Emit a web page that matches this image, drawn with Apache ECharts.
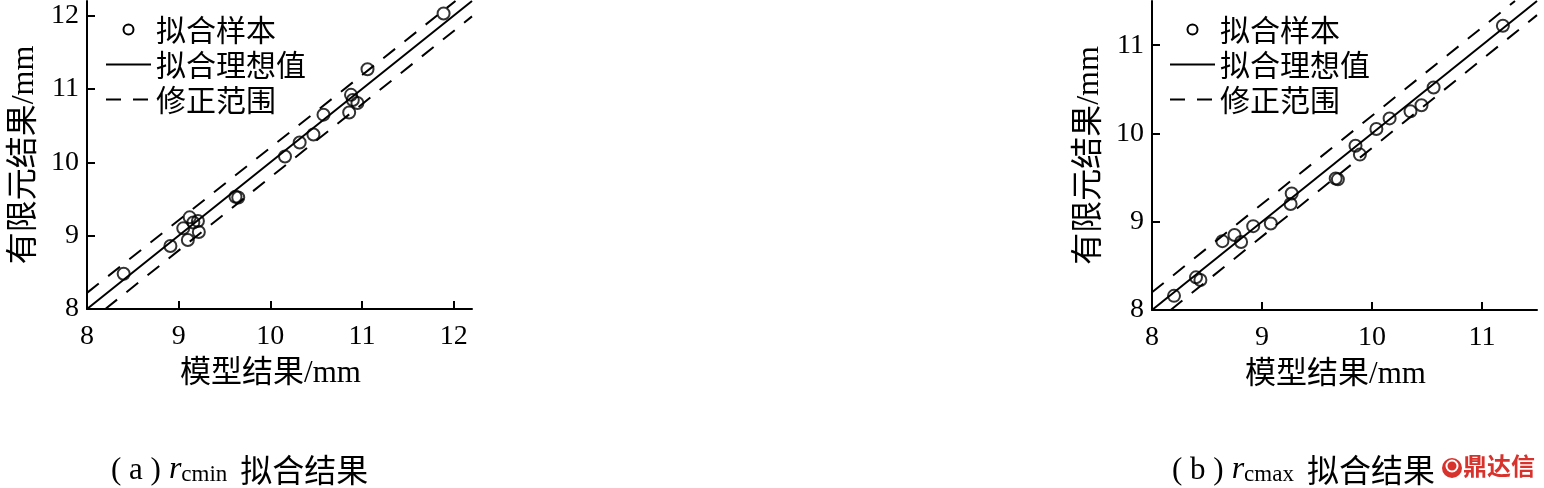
<!DOCTYPE html>
<html><head><meta charset="utf-8">
<script src="https://cdn.jsdelivr.net/npm/echarts@6/dist/echarts.min.js"></script>
<style>html,body{margin:0;padding:0;background:#fff}#c{width:1544px;height:488px}</style>
</head><body><div id="c"></div>
<script>
const seriesNames = ['拟合样本', '拟合理想值', '修正范围'];
const xAxisName = '模型结果/mm';
const yAxisName = '有限元结果/mm';
const watermark = '鼎达信';

// (a) r_cmin
const aSampleX = [8.40, 8.91, 9.05, 9.10, 9.12, 9.16, 9.21, 9.22, 9.62, 9.65, 10.16, 10.32, 10.47, 10.58, 10.86, 10.88, 10.90, 10.95, 11.06, 11.89];
const aSampleY = [8.48, 8.86, 9.10, 8.94, 9.25, 9.18, 9.20, 9.05, 9.53, 9.52, 10.08, 10.27, 10.38, 10.65, 10.68, 10.92, 10.85, 10.81, 11.27, 12.03];
const aIdeal = [[8, 8], [12.2, 12.2]];
const aUpper = [[8, 8.22], [12.02, 12.2]];
const aLower = [[8.2, 8], [12.2, 11.99]];
const aTicks = [8, 9, 10, 11, 12];
const aRange = [8, 12.2];

// (b) r_cmax
const bSampleX = [8.20, 8.40, 8.44, 8.64, 8.75, 8.81, 8.92, 9.08, 9.27, 9.26, 9.67, 9.69, 9.85, 9.89, 10.04, 10.16, 10.35, 10.45, 10.56, 11.19];
const bSampleY = [8.16, 8.37, 8.34, 8.78, 8.85, 8.77, 8.95, 8.98, 9.32, 9.20, 9.49, 9.48, 9.86, 9.76, 10.05, 10.17, 10.25, 10.32, 10.52, 11.22];
const bIdeal = [[8, 8], [11.5, 11.5]];
const bUpper = [[8, 8.2], [11.3, 11.5]];
const bLower = [[8.17, 8], [11.5, 11.34]];
const bTicks = [8, 9, 10, 11];
const bRange = [8, 11.5];

const serif = "'Liberation Serif', 'Noto Sans CJK SC', serif";
const cjk = "'Noto Sans CJK SC', sans-serif";

function pairs(xs, ys) { return xs.map((x, i) => [x, ys[i]]); }

function xAx(grid, range, ticks) {
  return {
    type: 'value', gridIndex: grid, min: range[0], max: range[1],
    name: xAxisName, nameLocation: 'middle', nameGap: 49,
    nameTextStyle: { fontSize: 31, fontFamily: serif, color: '#000', padding: [0, 18, 0, 0] },
    axisLine: { show: true, lineStyle: { color: '#000', width: 2 } },
    axisTick: { show: true, inside: true, length: 8, lineStyle: { color: '#000', width: 2 }, customValues: ticks },
    axisLabel: { color: '#000', fontSize: 28, fontFamily: serif, margin: 14, customValues: ticks },
    splitLine: { show: false }
  };
}
function yAx(grid, range, ticks) {
  return {
    type: 'value', gridIndex: grid, min: range[0], max: range[1],
    name: yAxisName, nameLocation: 'middle', nameGap: 46, nameRotate: 90,
    nameTextStyle: { fontSize: 32, fontFamily: serif, color: '#000' },
    axisLine: { show: true, lineStyle: { color: '#000', width: 2 } },
    axisTick: { show: true, inside: true, length: 8, lineStyle: { color: '#000', width: 2 }, customValues: ticks },
    axisLabel: { color: '#000', fontSize: 28, fontFamily: serif, margin: 8, customValues: ticks },
    splitLine: { show: false }
  };
}
function seriesFor(i, samples, ideal, upper, lower) {
  const lineBase = { type: 'line', xAxisIndex: i, yAxisIndex: i, symbol: 'none', silent: true, animation: false, color: '#000' };
  return [
    Object.assign({}, lineBase, { name: seriesNames[1], data: ideal, lineStyle: { color: '#000', width: 2, type: 'solid' }, z: 2 }),
    Object.assign({}, lineBase, { name: seriesNames[2], data: upper, lineStyle: { color: '#000', width: 2, type: [15, 12] }, z: 2 }),
    Object.assign({}, lineBase, { name: seriesNames[2], data: lower, lineStyle: { color: '#000', width: 2, type: [15, 12] }, z: 2 }),
    { type: 'scatter', name: seriesNames[0], xAxisIndex: i, yAxisIndex: i, data: samples, symbol: 'circle', symbolSize: 12,
      itemStyle: { color: 'rgba(255,255,255,0)', borderColor: '#000', borderWidth: 2 }, animation: false, z: 3 }
  ];
}
function legendAt(left) {
  return {
    left: left, top: 12, orient: 'vertical', padding: 0, itemGap: 0,
    itemWidth: 45, itemHeight: 10, itemTextGap: 12, selectedMode: false,
    itemStyle: { opacity: 0 },
    textStyle: { fontSize: 30, lineHeight: 35, fontFamily: cjk, color: '#000' },
    data: [
      { name: seriesNames[0], icon: 'circle', itemStyle: { opacity: 1, color: '#fff', borderColor: '#000', borderWidth: 2 } },
      { name: seriesNames[1] },
      { name: seriesNames[2] }
    ]
  };
}
function caption(left, letter, sub) {
  const base = { color: '#000', fontWeight: 'normal', verticalAlign: 'bottom' };
  return {
    left: left, top: 450, padding: 0,
    text: '{p|( ' + letter + ' )}{r|r}{s|' + sub + '}{t|拟合结果}',
    textStyle: {
      fontWeight: 'normal',
      rich: {
        p: Object.assign({ fontSize: 31, fontFamily: serif, lineHeight: 36, padding: [0, 8, 0, 0] }, base),
        r: Object.assign({ fontSize: 32, fontFamily: serif, fontStyle: 'italic', lineHeight: 36 }, base),
        s: Object.assign({ fontSize: 23, fontFamily: serif, lineHeight: 22, padding: [0, 13, 0, 0] }, base),
        t: Object.assign({ fontSize: 32, fontFamily: cjk, lineHeight: 36 }, base)
      }
    }
  };
}

const chart = echarts.init(document.getElementById('c'));
chart.setOption({
  backgroundColor: '#fff',
  animation: false,
  title: [caption(111, 'a', 'cmin'), caption(1172, 'b', 'cmax')],
  legend: [legendAt(105), legendAt(1169)],
  grid: [
    { left: 87, top: 1, width: 385, height: 308 },
    { left: 1152, top: 1, width: 385, height: 309 }
  ],
  xAxis: [xAx(0, aRange, aTicks), xAx(1, bRange, bTicks)],
  yAxis: [yAx(0, aRange, aTicks), yAx(1, bRange, bTicks)],
  series: [].concat(
    seriesFor(0, pairs(aSampleX, aSampleY), aIdeal, aUpper, aLower),
    seriesFor(1, pairs(bSampleX, bSampleY), bIdeal, bUpper, bLower)
  ),
  graphic: [
    { type: 'circle', shape: { cx: 1452, cy: 468, r: 10 }, style: { fill: '#d8322c' } },
    { type: 'circle', shape: { cx: 1452, cy: 466, r: 5.5 }, style: { fill: 'none', stroke: '#fff', lineWidth: 2 } },
    { type: 'text', left: 1463, top: 454, style: { text: watermark, fontSize: 24, fontWeight: 'bold', fontFamily: cjk, fill: '#d8322c' } }
  ]
});
</script>
</body></html>
